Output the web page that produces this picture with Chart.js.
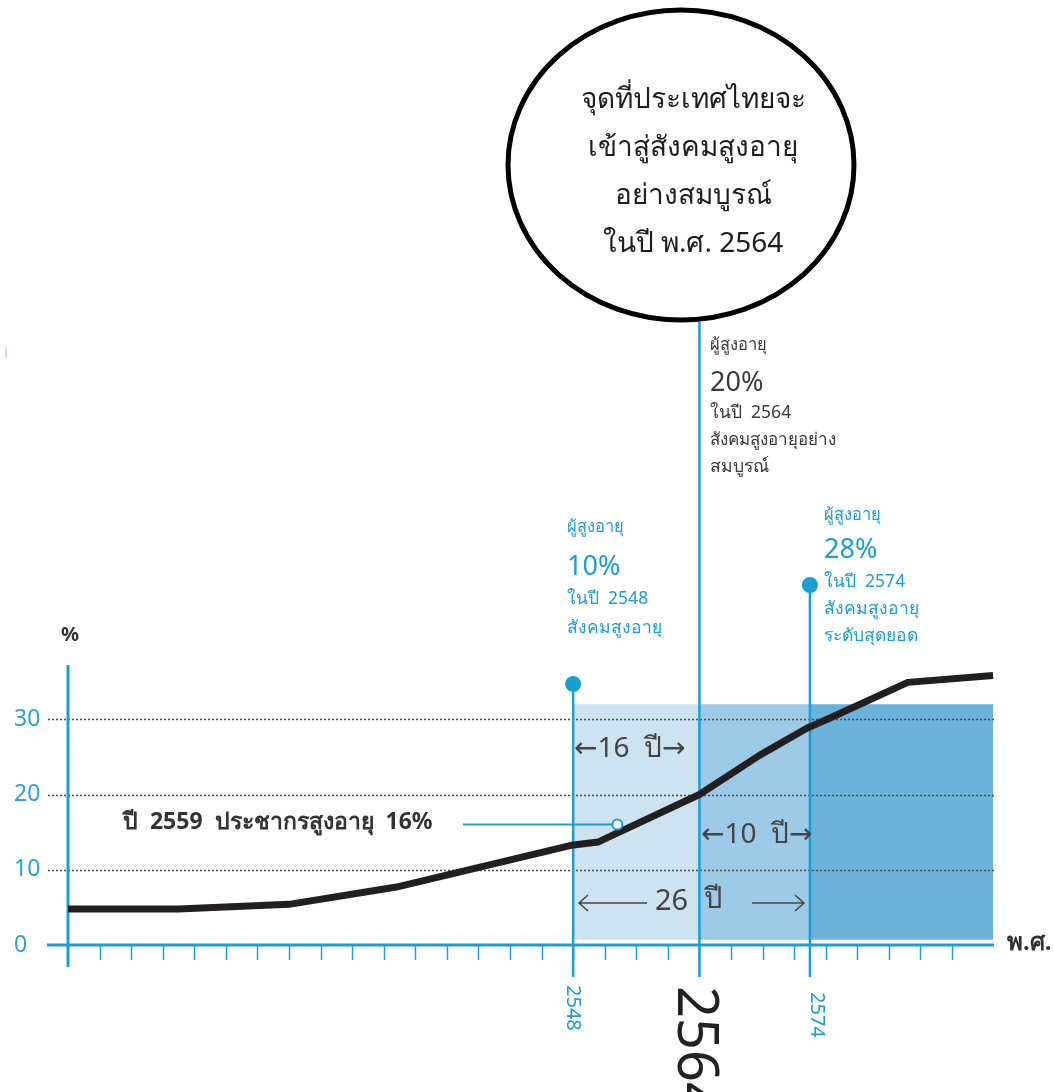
<!DOCTYPE html>
<html>
<head>
<meta charset="utf-8">
<script src="https://cdn.jsdelivr.net/npm/chart.js@4.4.1/dist/chart.umd.min.js"></script>
<style>
  html, body { margin: 0; padding: 0; background: #fff; }
  #wrap { position: relative; width: 1054px; height: 1092px; }
</style>
</head>
<body>
<div id="wrap"><canvas id="ageChart" width="1054" height="1092"></canvas></div>
<script>
// x runs in tick steps along the year axis (ticks 0..28), y in percent
const linePos    = [0, 3.5, 7, 10.4, 16.0, 16.8, 20, 21.9, 23.4, 24.1, 26.6, 29.3];
const lineValues = [4.8, 4.8, 5.4, 7.7, 13.3, 13.7, 20, 25.2, 28.8, 30.1, 34.9, 35.8];

const markerPos    = [17.4];
const markerValues = [16];

const yTicks     = [0, 10, 20, 30];
const tickCount  = 29;
const yearLabels = ['2548', '2564', '2574'];
const yearPos    = [16, 20, 23.5];

const bandEdges  = [16, 20, 23.5, 29.3];
const bandTop    = 32;
const bandBottom = 0.7;

const BLUE = '#1a9fd2';
const FONT = '"Noto Sans", "DejaVu Sans", sans-serif';

function text(ctx, str, px, py, size, color, opts = {}) {
  ctx.font = (opts.weight || 'normal') + ' ' + size + 'px ' + FONT;
  ctx.fillStyle = color;
  ctx.textAlign = opts.align || 'left';
  ctx.textBaseline = 'middle';
  ctx.fillText(str, px, py);
}

const decor = {
  id: 'decor',
  beforeDatasetsDraw(chart) {
    const { ctx, scales: { x, y } } = chart;
    const y0 = y.getPixelForValue(0);
    ctx.save();

    // shaded periods
    const bandColors = ['#cde3f1', '#9dcae7', '#6cb3dc'];
    bandColors.forEach((c, i) => {
      const x0 = x.getPixelForValue(bandEdges[i]);
      const x1 = x.getPixelForValue(bandEdges[i + 1]);
      const top = y.getPixelForValue(bandTop);
      const bot = y.getPixelForValue(bandBottom);
      ctx.fillStyle = c;
      ctx.fillRect(x0, top, x1 - x0, bot - top);
    });

    // dotted gridlines
    ctx.strokeStyle = '#4a4a4a';
    ctx.lineWidth = 1.5;
    ctx.setLineDash([2, 2]);
    yTicks.slice(1).forEach(v => {
      const py = Math.round(y.getPixelForValue(v)) + 0.5;
      ctx.beginPath();
      ctx.moveTo(48, py);
      ctx.lineTo(x.right + 1, py);
      ctx.stroke();
    });
    ctx.setLineDash([]);

    // axes
    ctx.strokeStyle = BLUE;
    ctx.lineWidth = 3;
    ctx.beginPath();
    ctx.moveTo(47, y0);
    ctx.lineTo(x.right, y0);
    ctx.moveTo(x.left, y.top + 21);
    ctx.lineTo(x.left, y0 + 22);
    ctx.stroke();

    // small ticks
    ctx.lineWidth = 1.5;
    for (let i = 1; i < tickCount; i++) {
      const px = Math.round(x.getPixelForValue(i)) + 0.5;
      ctx.beginPath();
      ctx.moveTo(px, y0);
      ctx.lineTo(px, y0 + 15);
      ctx.stroke();
    }

    // year marker lines with callout dots
    const lineTops = [684, 322, 585];
    ctx.lineWidth = 2.5;
    yearPos.forEach((p, i) => {
      const px = x.getPixelForValue(p);
      ctx.beginPath();
      ctx.moveTo(px, lineTops[i]);
      ctx.lineTo(px, y0 + 32);
      ctx.stroke();
      if (i !== 1) {
        ctx.fillStyle = BLUE;
        ctx.beginPath();
        ctx.arc(px, lineTops[i], 8, 0, Math.PI * 2);
        ctx.fill();
      }
    });

    // leader from the 2559 note to its point
    const my = y.getPixelForValue(markerValues[0]);
    ctx.lineWidth = 2;
    ctx.beginPath();
    ctx.moveTo(463, my);
    ctx.lineTo(x.getPixelForValue(markerPos[0]) - 5, my);
    ctx.stroke();

    // stray mark at left edge
    ctx.strokeStyle = '#bfe3f3';
    ctx.beginPath();
    ctx.moveTo(6, 347);
    ctx.lineTo(6, 358);
    ctx.stroke();
    ctx.restore();
  },

  afterDraw(chart) {
    const { ctx, scales: { x, y } } = chart;
    ctx.save();

    // y labels
    yTicks.forEach(v => text(ctx, String(v), 14, y.getPixelForValue(v), 23, '#2aa3d6'));
    text(ctx, '%', 61, 635, 20, '#333', { weight: 'bold' });
    text(ctx, 'พ.ศ.', 1007, 943, 24, '#333', { weight: 'bold' });

    // rotated year labels under the axis
    const yearStyle = [
      { size: 20, color: BLUE, dx: 0, top: 985 },
      { size: 56, color: '#222', dx: -5, top: 986 },
      { size: 20, color: BLUE, dx: 7, top: 992 }
    ];
    yearLabels.forEach((lab, i) => {
      const s = yearStyle[i];
      ctx.save();
      ctx.translate(x.getPixelForValue(yearPos[i]) + s.dx, s.top);
      ctx.rotate(Math.PI / 2);
      ctx.font = s.size + 'px ' + FONT;
      ctx.fillStyle = s.color;
      ctx.textAlign = 'left';
      ctx.textBaseline = 'middle';
      ctx.fillText(lab, 0, 0);
      ctx.restore();
    });

    // note for 2559
    text(ctx, 'ปี  2559  ประชากรสูงอายุ  16%', 123, 822, 23, '#333', { weight: 'bold' });

    // period spans
    text(ctx, '←16  ปี→', 574, 749, 28, '#444');
    text(ctx, '←10  ปี→', 701, 835, 28, '#444');
    text(ctx, '26', 655, 902, 29, '#444');
    text(ctx, 'ปี', 704, 900, 29, '#444');
    ctx.strokeStyle = '#444';
    ctx.lineWidth = 1.5;
    ctx.beginPath();
    ctx.moveTo(579, 903); ctx.lineTo(647, 903);
    ctx.moveTo(588, 895); ctx.lineTo(579, 903); ctx.lineTo(588, 911);
    ctx.moveTo(752, 903); ctx.lineTo(804, 903);
    ctx.moveTo(795, 895); ctx.lineTo(804, 903); ctx.lineTo(795, 911);
    ctx.stroke();

    // callouts
    const blueNote = [['ผู้สูงอายุ', 527, 16.5], ['10%', 567, 27], ['ในปี  2548', 599, 17.5], ['สังคมสูงอายุ', 628, 17.5]];
    blueNote.forEach(([s, py, sz]) => text(ctx, s, 567, py, sz, BLUE));
    const midNote = [['ผู้สูงอายุ', 345, 16.5], ['20%', 383, 27], ['ในปี  2564', 413, 17.5], ['สังคมสูงอายุอย่าง', 440, 17], ['สมบูรณ์', 467, 17.5]];
    midNote.forEach(([s, py, sz]) => text(ctx, s, 710, py, sz, '#3a3a3a'));
    const rightNote = [['ผู้สูงอายุ', 515, 16.5], ['28%', 550, 27], ['ในปี  2574', 582, 17.5], ['สังคมสูงอายุ', 609, 17.5], ['ระดับสุดยอด', 636, 17.5]];
    rightNote.forEach(([s, py, sz]) => text(ctx, s, 824, py, sz, BLUE));

    // headline bubble
    ctx.strokeStyle = '#000';
    ctx.lineWidth = 5;
    ctx.fillStyle = '#fff';
    ctx.beginPath();
    ctx.ellipse(681, 165, 173, 155, 0, 0, Math.PI * 2);
    ctx.fill();
    ctx.stroke();
    const head = ['จุดที่ประเทศไทยจะ', 'เข้าสู่สังคมสูงอายุ', 'อย่างสมบูรณ์', 'ในปี พ.ศ. 2564'];
    head.forEach((s, i) => text(ctx, s, 693, 100 + i * 48, 28, '#1e1e1e', { align: 'center' }));
    ctx.restore();
  }
};

new Chart(document.getElementById('ageChart'), {
  type: 'line',
  data: {
    datasets: [
      {
        label: 'ปี 2559',
        data: markerPos.map((p, i) => ({ x: p, y: markerValues[i] })),
        showLine: false,
        pointRadius: 5,
        pointBorderWidth: 2,
        pointBackgroundColor: '#fff',
        pointBorderColor: BLUE,
        order: 0
      },
      {
        label: 'ผู้สูงอายุ (%)',
        data: linePos.map((p, i) => ({ x: p, y: lineValues[i] })),
        borderColor: '#231f20',
        borderWidth: 7,
        borderJoinStyle: 'round',
        pointRadius: 0,
        tension: 0,
        order: 1
      }
    ]
  },
  options: {
    responsive: false,
    animation: false,
    events: [],
    layout: { padding: { left: 68, right: 60, top: 644, bottom: 147 } },
    plugins: { legend: { display: false }, tooltip: { enabled: false } },
    scales: {
      x: { type: 'linear', min: 0, max: 29.33, display: false },
      y: { min: 0, max: 40, display: false }
    }
  },
  plugins: [decor]
});
</script>
</body>
</html>
